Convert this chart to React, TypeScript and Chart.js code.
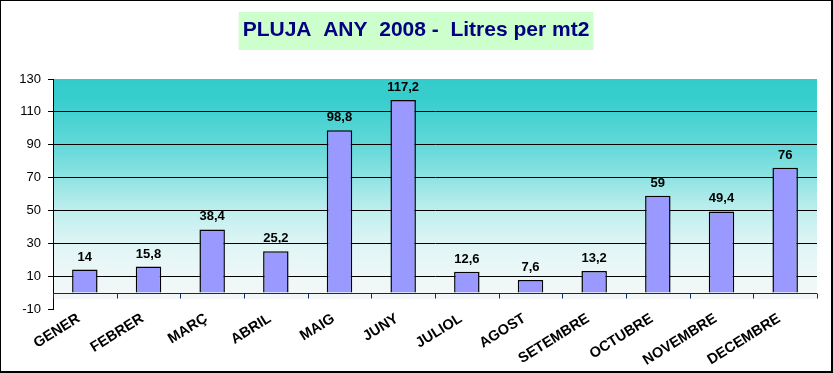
import React, { useEffect, useRef } from 'react';
import { Chart, registerables } from 'chart.js';

Chart.register(...registerables);

const months = ['GENER', 'FEBRER', 'MARÇ', 'ABRIL', 'MAIG', 'JUNY', 'JULIOL', 'AGOST', 'SETEMBRE', 'OCTUBRE', 'NOVEMBRE', 'DECEMBRE'];
const rainfall = [14, 15.8, 38.4, 25.2, 98.8, 117.2, 12.6, 7.6, 13.2, 59, 49.4, 76];
const yTicks = [-10, 10, 30, 50, 70, 90, 110, 130];
const titleText = 'PLUJA  ANY  2008 -  Litres per mt2';

const FONT = '"Liberation Sans", Arial, sans-serif';
const TITLE_SIZE = 21;

const fmt = (v: number) => String(v).replace('.', ',');

const backgroundPlugin = {
  id: 'bgPlugin',
  beforeDraw(chart: any) {
    const { ctx, chartArea, scales } = chart;
    ctx.save();
    ctx.fillStyle = '#ffffff';
    ctx.fillRect(0, 0, chart.width, chart.height);
    // plot background gradient
    const top = scales.y.getPixelForValue(yTicks[yTicks.length - 1]);
    const bottom = scales.y.getPixelForValue(-4);
    const g = ctx.createLinearGradient(0, top, 0, bottom);
    g.addColorStop(0, '#33CCCC');
    g.addColorStop(0.09, '#38CDCD');
    g.addColorStop(0.22, '#52D4D4');
    g.addColorStop(0.3, '#62D8D8');
    g.addColorStop(0.45, '#90E3E3');
    g.addColorStop(0.6, '#C0EEEE');
    g.addColorStop(0.75, '#DFF5F5');
    g.addColorStop(0.9, '#EEF7F7');
    g.addColorStop(1, '#F4F7F7');
    ctx.fillStyle = g;
    ctx.fillRect(chartArea.left, top, chartArea.right - chartArea.left, bottom - top);
    // title box
    ctx.font = `bold ${TITLE_SIZE}px ${FONT}`;
    const w = ctx.measureText(titleText).width;
    const tb = chart.titleBlock;
    const cx = tb ? tb.left + tb.width / 2 : chart.width / 2;
    ctx.fillStyle = '#CCFFCC';
    ctx.fillRect(cx - w / 2 - 4, 11, w + 8, 38);
    ctx.restore();
  },
};

const overlayPlugin = {
  id: 'overlayPlugin',
  afterDatasetsDraw(chart: any) {
    const { ctx, chartArea, scales } = chart;
    ctx.save();
    // zero axis line with category ticks
    const y0 = Math.round(scales.y.getPixelForValue(0)) + 0.5;
    ctx.strokeStyle = '#0A2A6A';
    ctx.lineWidth = 1;
    ctx.beginPath();
    ctx.moveTo(chartArea.left, y0);
    ctx.lineTo(chartArea.right, y0);
    for (let i = 0; i <= months.length; i++) {
      const x = Math.round(scales.x.getPixelForValue(i - 0.5)) + 0.5;
      ctx.moveTo(x, y0);
      ctx.lineTo(x, y0 + 5);
    }
    ctx.stroke();
    // data labels
    const meta = chart.getDatasetMeta(0);
    ctx.fillStyle = '#000';
    ctx.font = `bold 13px ${FONT}`;
    ctx.textAlign = 'center';
    ctx.textBaseline = 'alphabetic';
    meta.data.forEach((bar: any, i: number) => {
      ctx.fillText(fmt(rainfall[i]), bar.x, bar.y - 9);
    });
    ctx.restore();
  },
};

export default function App() {
  const ref = useRef<HTMLCanvasElement>(null);
  useEffect(() => {
    document.body.style.margin = '0';
    const canvas = ref.current;
    if (!canvas) return;
    const chart = new Chart(canvas, {
      type: 'bar',
      data: {
        labels: months,
        datasets: [
          {
            data: rainfall,
            backgroundColor: '#9999FF',
            borderColor: '#000000',
            borderWidth: 1.5,
            barPercentage: 0.4,
            categoryPercentage: 1,
          },
        ],
      },
      options: {
        animation: false,
        responsive: false,
        devicePixelRatio: 1,
        layout: { padding: { left: 14, right: 14, top: 0, bottom: 0 } },
        plugins: {
          legend: { display: false },
          tooltip: { enabled: false },
          title: {
            display: true,
            text: titleText,
            color: '#000080',
            font: { family: FONT, size: TITLE_SIZE, weight: 'bold' },
            padding: { top: 17, bottom: 78 - 17 - TITLE_SIZE * 1.2 },
          },
        },
        scales: {
          x: {
            grid: { display: false, drawTicks: false, tickLength: 0 },
            border: { display: false },
            ticks: {
              color: '#000',
              font: { family: FONT, size: 14.5, weight: 'bold' },
              minRotation: 32,
              maxRotation: 32,
              autoSkip: false,
              padding: 1,
              labelOffset: -6,
            },
            afterFit: (s: any) => {
              s.height = 62;
            },
          },
          y: {
            min: yTicks[0],
            max: yTicks[yTicks.length - 1],
            afterBuildTicks: (s: any) => {
              s.ticks = yTicks.map((v) => ({ value: v }));
            },
            grid: {
              color: (c: any) =>
                c.tick && c.tick.value > yTicks[0] && c.tick.value < yTicks[yTicks.length - 1] ? '#000' : 'rgba(0,0,0,0)',
              tickColor: '#000',
              tickLength: 5,
              drawTicks: true,
              lineWidth: 1,
            },
            border: { display: true, color: '#000', width: 1 },
            ticks: {
              color: '#000',
              font: { family: FONT, size: 13 },
              padding: 7,
            },
            afterFit: (s: any) => {
              s.width = 38;
            },
          },
        },
      },
      plugins: [backgroundPlugin, overlayPlugin],
    });
    return () => chart.destroy();
  }, []);

  return (
    <div
      style={{
        width: 833,
        height: 373,
        boxSizing: 'border-box',
        borderStyle: 'solid',
        borderColor: '#000',
        borderWidth: '1px 2px 2px 1px',
        background: '#fff',
      }}
    >
      <canvas ref={ref} width={830} height={370} style={{ display: 'block', width: 830, height: 370 }} />
    </div>
  );
}
